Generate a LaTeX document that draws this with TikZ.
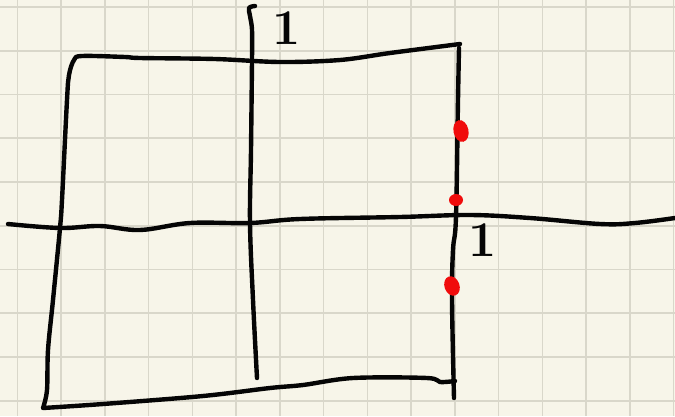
\documentclass[tikz,border=0pt]{standalone}
\usepackage{fontspec}
\definecolor{paper}{RGB}{247,245,233}
\definecolor{gridc}{RGB}{217,215,202}
\definecolor{ink}{RGB}{5,5,5}
\definecolor{dotred}{RGB}{240,12,12}
\tikzset{
  gridline/.style={draw=gridc, line width=1.6pt},
  pen/.style={draw=ink, line width=4.4pt, line cap=round, line join=round},
  mark1/.style={text=ink, font=\fontsize{50}{50}\selectfont\bfseries, inner sep=0pt},
  reddot/.style={fill=dotred}
}
\begin{document}
\begin{tikzpicture}[x=1pt,y=-1pt]
\useasboundingbox (0,0) rectangle (675,416);
\fill[paper] (0,0) rectangle (675,416);
\foreach \i in {0,...,15} \draw[gridline] ({17.3+43.75*\i},0) -- ({17.3+43.75*\i},416);
\foreach \j in {0,...,9} \draw[gridline] (0,{7+43.75*\j}) -- (675,{7+43.75*\j});
% horizontal axis
\draw[pen] plot[smooth, tension=0.6] coordinates {(8,224) (60,228) (100,226) (140,230) (190,223) (250,223) (300,219) (400,217) (470,215) (530,218) (600,224) (635,223) (675,218)};
% vertical axis
\draw[pen] plot[smooth, tension=0.6] coordinates {(255,6) (249,8) (250,16) (252,30) (252,60) (251,150) (250,223) (253,300) (257,378)};
% rectangle: top, left, bottom
\draw[pen] plot[smooth, tension=0.55] coordinates {(460,44) (390,53) (340,60) (280,62) (215,59) (140,58) (125,57) (82,56) (74,60) (69,75) (67,100) (62,200) (60,228) (53,300) (48,350) (47,390) (43,408)}
  -- plot[smooth, tension=0.55] coordinates {(43,408) (103,404) (203,396) (270,388) (303,385) (353,378) (427,378) (440,382) (455,381)};
% right side
\draw[pen] plot[smooth, tension=0.6] coordinates {(459,48) (458,100) (456,217) (453,250) (452,300) (454,398)};
% red marks
\fill[reddot, rotate around={12:(461,131)}] (461,131) ellipse [x radius=7.5pt, y radius=11pt];
\fill[reddot] (456,200) ellipse [x radius=7pt, y radius=6pt];
\fill[reddot, rotate around={20:(452,286)}] (452,286) ellipse [x radius=7.5pt, y radius=10pt];
% labels
\node[mark1] (ly) at (287,28) {1};
\node[mark1] (lx) at (483,240) {1};
\end{tikzpicture}
\end{document}
